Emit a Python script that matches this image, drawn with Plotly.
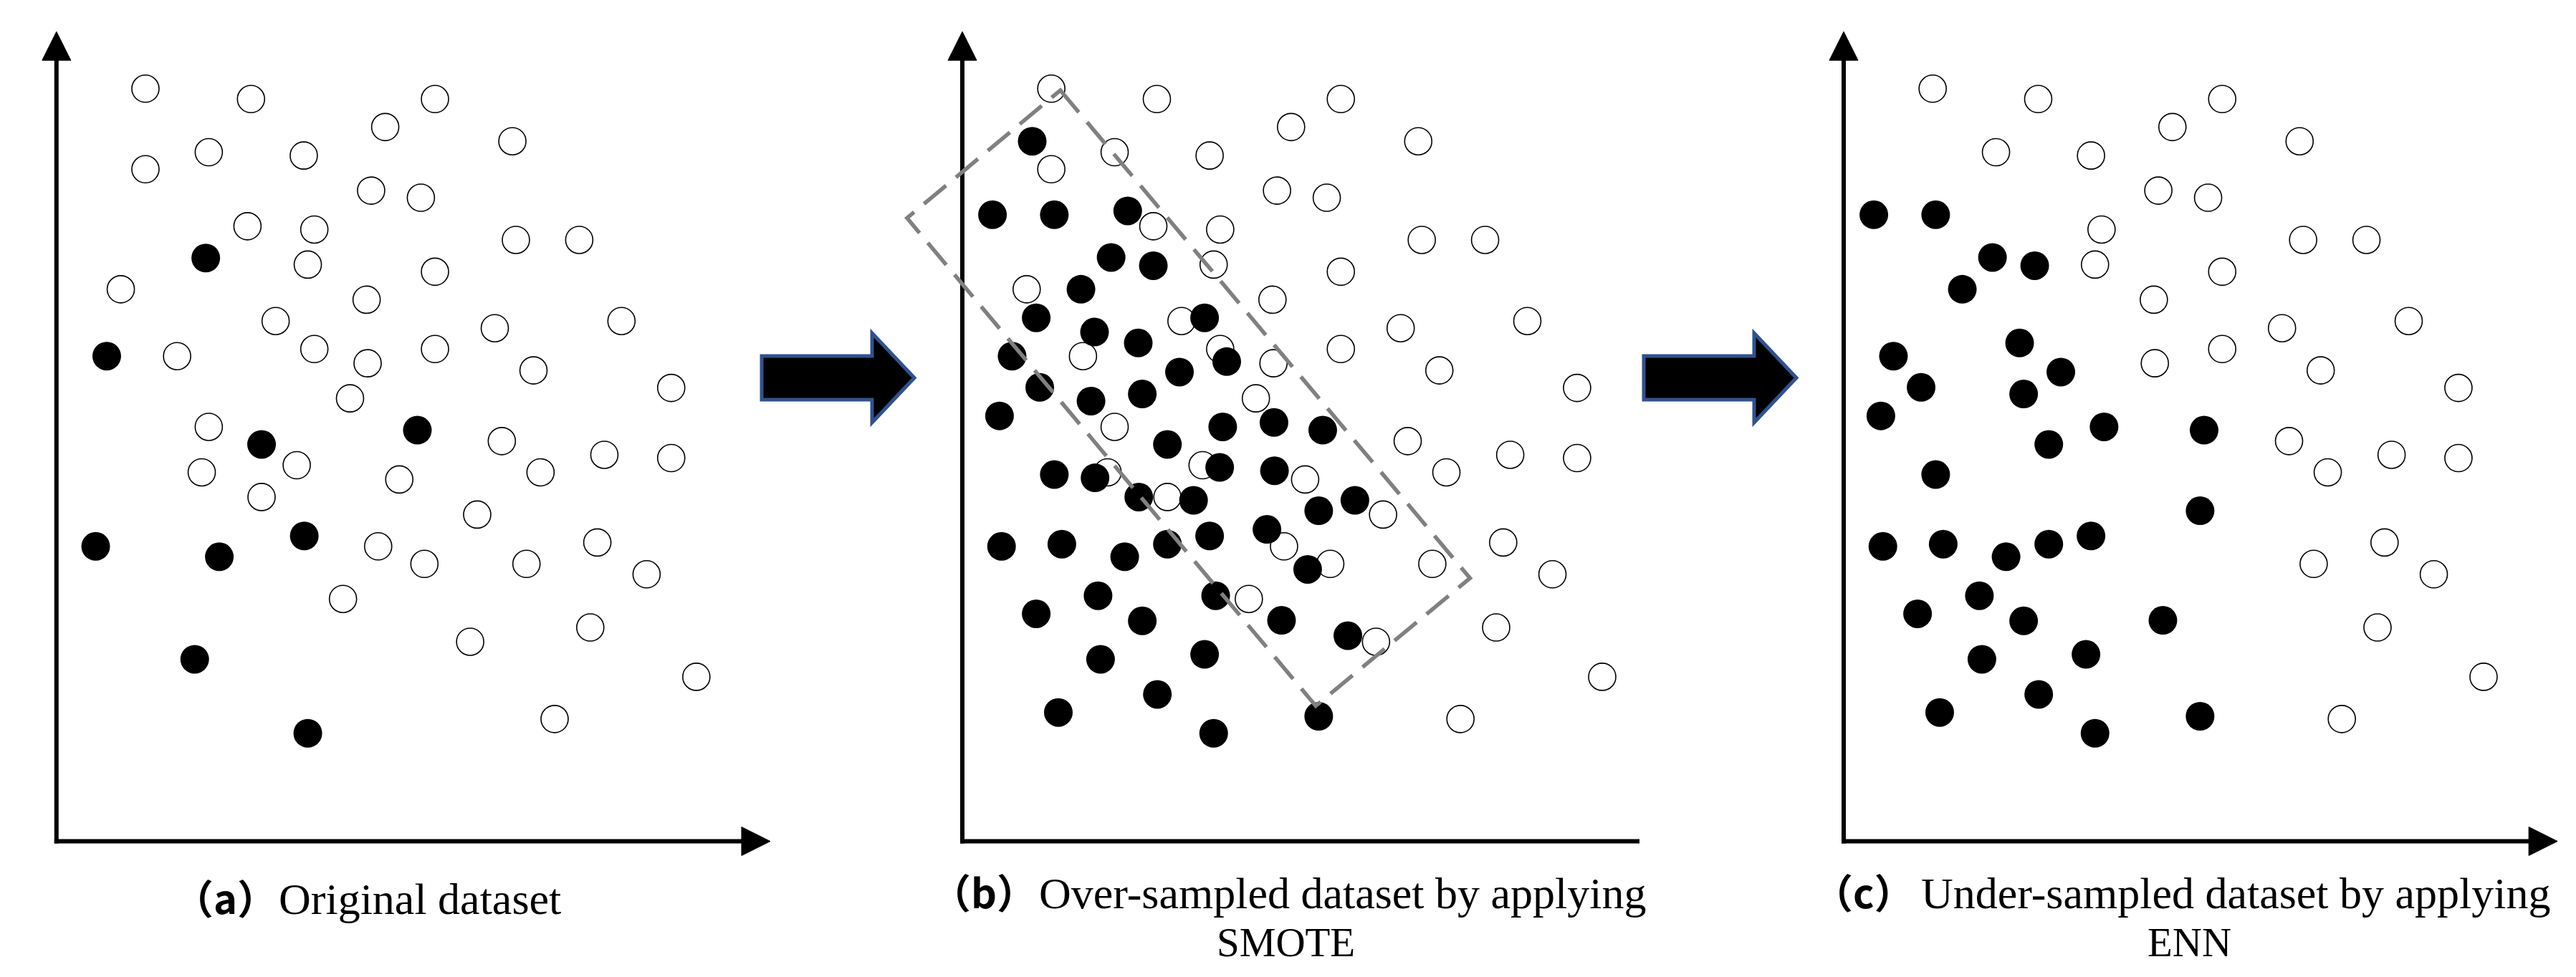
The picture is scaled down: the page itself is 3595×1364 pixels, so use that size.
import plotly.graph_objects as go

W, H = 3595, 1364

# ---------------- data (units: reading grid, origin at axis corner) ----------------
# majority class (open circles) - panel (a) and (b)
maj_x = [177, 387, 753, 654, 907, 303, 492, 177, 626, 725, 380, 513, 914, 1040, 500, 753,
         128, 617, 436, 872, 1124, 240, 513, 753, 619, 949, 1223, 584, 303, 886, 478, 1090,
         1223, 289, 682, 963, 408, 837, 640, 1076, 732, 935, 1174, 570, 1062, 823, 1273, 991]
maj_y = [1373, 1354, 1354, 1303, 1277, 1257, 1251, 1226, 1187, 1174, 1122, 1116, 1097, 1097, 1052, 1039,
         1007, 988, 949, 936, 949, 885, 898, 898, 872, 859, 827, 808, 756, 730, 686, 705,
         699, 673, 660, 673, 628, 596, 538, 545, 506, 506, 487, 442, 390, 364, 300, 223]

# minority class (filled) - panel (a) original dataset
a_min_x = [297, 100, 408, 718, 78, 324, 493, 275, 500]
a_min_y = [1064, 885, 724, 750, 538, 519, 557, 332, 197]

# minority class after SMOTE - panel (b)
b_min_x = [139, 60, 183, 329, 296, 380, 236, 147, 482, 263, 350, 99, 526, 432, 154, 256, 358,
           74, 518, 620, 717, 408, 183, 264, 512, 621, 351, 460, 781, 709, 78, 198, 323, 408,
           492, 606, 687, 270, 504, 147, 358, 635, 767, 275, 482, 388, 191, 500, 709]
b_min_y = [1277, 1143, 1143, 1150, 1065, 1050, 1007, 955, 955, 929, 909, 885, 875, 856, 828, 803, 816,
           776, 756, 764, 750, 724, 669, 663, 682, 676, 628, 622, 622, 603, 538, 542, 519, 542,
           557, 569, 496, 448, 448, 415, 402, 403, 375, 332, 341, 268, 235, 197, 228]

# after ENN - panel (c)
c_maj_x = [177, 387, 753, 654, 907, 303, 492, 626, 725, 513, 914, 1040, 500, 753, 617, 872,
           1124, 753, 619, 949, 1223, 886, 1090, 1223, 963, 1076, 935, 1174, 1062, 1273, 991]
c_maj_y = [1373, 1354, 1354, 1303, 1277, 1257, 1251, 1187, 1174, 1116, 1097, 1097, 1052, 1039, 988, 936,
           949, 898, 872, 859, 827, 730, 705, 699, 673, 545, 506, 487, 390, 300, 223]
c_min_x = [60, 183, 296, 380, 236, 350, 99, 432, 154, 358, 74, 518, 717, 408, 183, 709,
           78, 198, 323, 408, 492, 270, 147, 358, 635, 275, 482, 388, 191, 500, 709]
c_min_y = [1143, 1143, 1065, 1050, 1007, 909, 885, 856, 828, 816, 776, 756, 750, 724, 669, 603,
           538, 542, 519, 542, 557, 448, 415, 402, 403, 332, 341, 268, 235, 197, 228]

# SMOTE neighbourhood box (panel b), corners
box_x = [195, 1010, 703, -110]
box_y = [1370, 480, 247, 1137]

labels_tag = ["（a）", "（b）", "（c）"]
labels_text1 = ["Original dataset", "Over-sampled dataset by applying", "Under-sampled dataset by applying"]
labels_line2 = ["", "SMOTE", "ENN"]

# ---------------- geometry ----------------
KX = 1 / 1.4255   # px per data unit, horizontal
KY = 1 / 1.3067   # px per data unit, vertical
OY = 1166.5       # px (from top) of x-axis
X_TIP, Y_TIP = 1420, 1477

panels = [
    dict(ox=70.8, win=(0, 1150)),
    dict(ox=1335.0, win=(1180, 2280)),
    dict(ox=2565.0, win=(2505, 3595)),
]
WIN_Y = (0, 1205)

fig = go.Figure()
layout_axes = {}
shapes = []

panel_data = [
    (maj_x, maj_y, a_min_x, a_min_y),
    (maj_x, maj_y, b_min_x, b_min_y),
    (c_maj_x, c_maj_y, c_min_x, c_min_y),
]

HEAD_L, HEAD_W = 40, 20  # arrowhead px
LW = 6

for i, (p, (mx, my, nx, ny)) in enumerate(zip(panels, panel_data)):
    sfx = "" if i == 0 else str(i + 1)
    xa, ya = "x" + sfx, "y" + sfx
    p0, p1 = p["win"]
    q0, q1 = WIN_Y
    xr = [(p0 - p["ox"]) / KX, (p1 - p["ox"]) / KX]
    yr = [(OY - q1) / KY, (OY - q0) / KY]
    layout_axes["xaxis" + sfx] = dict(domain=[p0 / W, p1 / W], range=xr, visible=False,
                                      anchor=ya, fixedrange=True)
    layout_axes["yaxis" + sfx] = dict(domain=[1 - q1 / H, 1 - q0 / H], range=yr, visible=False,
                                      anchor=xa, fixedrange=True)

    fig.add_trace(go.Scatter(x=mx, y=my, mode="markers", xaxis=xa, yaxis=ya,
                             marker=dict(symbol="circle", size=38, color="white",
                                         line=dict(color="black", width=1.6)),
                             showlegend=False, hoverinfo="skip"))
    fig.add_trace(go.Scatter(x=nx, y=ny, mode="markers", xaxis=xa, yaxis=ya,
                             marker=dict(symbol="circle", size=40, color="black",
                                         line=dict(width=0)),
                             showlegend=False, hoverinfo="skip"))

    hlx, hly = HEAD_L / KX, HEAD_L / KY
    hwx, hwy = HEAD_W / KX, HEAD_W / KY
    ext_x, ext_y = (LW / 2) / KX, (LW / 2) / KY
    # y axis
    shapes.append(dict(type="line", xref=xa, yref=ya, x0=0, y0=-ext_y, x1=0, y1=Y_TIP - hly + 2,
                       line=dict(color="black", width=LW), layer="above"))
    shapes.append(dict(type="path", xref=xa, yref=ya,
                       path=f"M {-hwx},{Y_TIP - hly} L 0,{Y_TIP} L {hwx},{Y_TIP - hly} Z",
                       fillcolor="black", line=dict(color="black", width=1), layer="above"))
    # x axis
    shapes.append(dict(type="line", xref=xa, yref=ya, x0=-ext_x, y0=0, x1=X_TIP - hlx + 2, y1=0,
                       line=dict(color="black", width=LW), layer="above"))
    shapes.append(dict(type="path", xref=xa, yref=ya,
                       path=f"M {X_TIP - hlx},{-hwy} L {X_TIP},0 L {X_TIP - hlx},{hwy} Z",
                       fillcolor="black", line=dict(color="black", width=1), layer="above"))

# dashed SMOTE box on panel b
bp = "M " + " L ".join(f"{x},{y}" for x, y in zip(box_x, box_y)) + " Z"
shapes.append(dict(type="path", xref="x2", yref="y2", path=bp,
                   line=dict(color="#808080", width=5.5, dash="40px,18px"), layer="above"))

# block arrows between panels (pixel geometry)
def block_arrow(x0):
    pts = [(x0, 489), (x0 + 154, 489), (x0 + 154, 457), (x0 + 213, 519.5),
           (x0 + 154, 582), (x0 + 154, 550), (x0, 550)]
    return "M " + " L ".join(f"{x / W},{1 - y / H}" for x, y in pts) + " Z"

for x0 in (1055, 2286):
    shapes.append(dict(type="path", xref="paper", yref="paper", path=block_arrow(x0),
                       fillcolor="black", line=dict(color="#2F528F", width=5), layer="above"))

# captions
ann = []
FS = 62
FS2 = 57
FS_TAG = 56
text_x = [379, 1440, 2671]        # left edge of caption text (px)
tag_x = [232, 1289, 2520]         # left edge of tag box (px)
base1 = [1268, 1260, 1260]        # baseline of first line (px)
line2_cx = [None, 1786, 3047]
base2 = 1327
for i in range(3):
    ann.append(dict(text=labels_tag[i], x=tag_x[i] / W, y=1 - (base1[i] - 0.436 * FS_TAG) / H,
                    xref="paper", yref="paper", xanchor="left", yanchor="middle", showarrow=False,
                    font=dict(family="Noto Sans CJK SC", size=FS_TAG, color="black", weight="bold")))
    ann.append(dict(text=labels_text1[i], x=text_x[i] / W, y=1 - (base1[i] - 0.3375 * FS) / H,
                    xref="paper", yref="paper", xanchor="left", yanchor="middle", showarrow=False,
                    font=dict(family="Liberation Serif", size=FS, color="black")))
    if labels_line2[i]:
        ann.append(dict(text=labels_line2[i], x=line2_cx[i] / W, y=1 - (base2 - 0.3375 * FS2) / H,
                        xref="paper", yref="paper", xanchor="center", yanchor="middle", showarrow=False,
                        font=dict(family="Liberation Serif", size=FS2, color="black")))

fig.update_layout(width=W, height=H, margin=dict(l=0, r=0, t=0, b=0),
                  paper_bgcolor="white", plot_bgcolor="white",
                  shapes=shapes, annotations=ann, **layout_axes)

fig.write_html("out.html", config={"displayModeBar": False})
